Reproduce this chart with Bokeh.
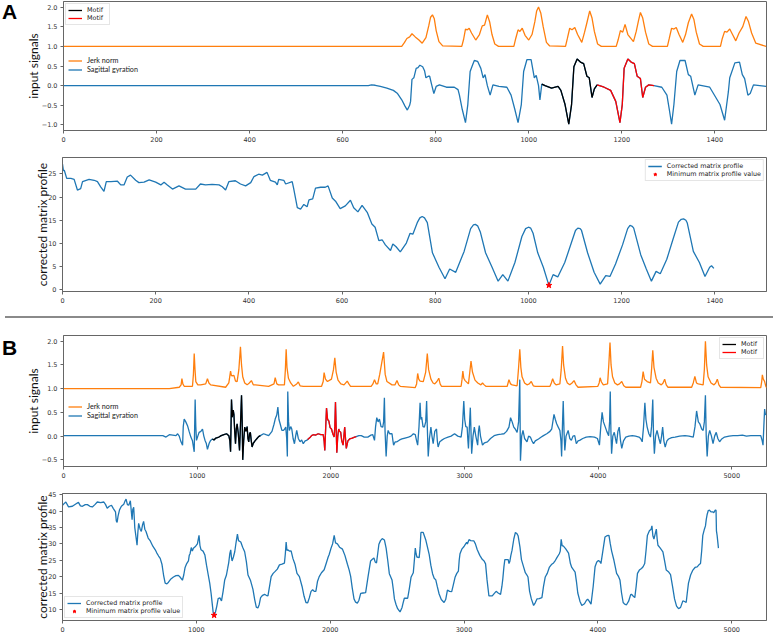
from bokeh.plotting import figure
from bokeh.models import Range1d, FixedTicker, Legend, LegendItem, Div
from bokeh.layouts import column, row
from bokeh.embed import file_html
from bokeh.resources import INLINE

BLUE = "#1f77b4"
ORANGE = "#ff7f0e"

# ---------------- Panel A : input signals ----------------
a_jerk_x = [0, 727, 733, 738, 744, 749, 756, 764, 771, 779, 785, 789, 793, 797, 801, 807, 815, 856, 860, 864, 868, 872, 877, 886, 894, 900, 905, 911, 916, 921, 927, 935, 968, 972, 977, 981, 986, 992, 1000, 1007, 1013, 1017, 1021, 1026, 1031, 1038, 1045, 1079, 1083, 1088, 1093, 1099, 1105, 1114, 1120, 1125, 1131, 1136, 1141, 1148, 1156, 1188, 1192, 1197, 1202, 1207, 1213, 1225, 1231, 1236, 1240, 1245, 1251, 1258, 1266, 1298, 1302, 1307, 1312, 1317, 1323, 1331, 1337, 1343, 1350, 1355, 1360, 1367, 1375, 1412, 1416, 1421, 1426, 1432, 1438, 1445, 1452, 1460, 1467, 1472, 1479, 1488, 1510]
a_jerk_y = [1.0, 1.0, 1.1, 1.2, 1.24, 1.32, 1.24, 1.16, 1.08, 1.22, 1.52, 1.74, 1.8, 1.7, 1.4, 1.12, 1.01, 1.0, 1.18, 1.44, 1.42, 1.46, 1.34, 1.16, 1.3, 1.52, 1.54, 1.8, 1.62, 1.3, 1.06, 1.0, 1.0, 1.2, 1.42, 1.38, 1.46, 1.28, 1.16, 1.3, 1.62, 1.9, 2.0, 1.84, 1.5, 1.1, 1.01, 1.0, 1.2, 1.46, 1.42, 1.48, 1.3, 1.1, 1.36, 1.6, 1.9, 1.72, 1.38, 1.06, 1.0, 1.0, 1.16, 1.4, 1.36, 1.56, 1.3, 1.12, 1.38, 1.66, 1.86, 1.72, 1.36, 1.06, 1.0, 1.0, 1.2, 1.46, 1.44, 1.48, 1.3, 1.1, 1.3, 1.6, 1.82, 1.68, 1.36, 1.06, 1.0, 1.0, 1.2, 1.38, 1.36, 1.44, 1.3, 1.14, 1.34, 1.5, 1.76, 1.64, 1.34, 1.08, 1.0]

a_sag_x = [0, 655, 662, 670, 681, 695, 709, 718, 727, 734, 739, 744, 746, 749, 753, 758, 762, 766, 772, 776, 779, 784, 787, 791, 796, 801, 808, 823, 840, 848, 851, 857, 864, 869, 874, 879, 883, 890, 897, 902, 906, 911, 917, 923, 936, 953, 962, 970, 977, 984, 989, 996, 1005, 1012, 1016, 1021, 1024, 1028, 1035, 1049, 1063, 1069, 1078, 1086, 1092, 1097, 1104, 1111, 1118, 1125, 1130, 1136, 1141, 1147, 1162, 1176, 1187, 1196, 1201, 1205, 1213, 1220, 1227, 1233, 1240, 1245, 1251, 1258, 1269, 1286, 1297, 1302, 1307, 1312, 1318, 1325, 1336, 1343, 1348, 1357, 1364, 1389, 1411, 1421, 1429, 1432, 1443, 1453, 1459, 1464, 1471, 1476, 1483, 1510]
a_sag_y = [0.0, 0.0, 0.02, 0.01, -0.02, -0.06, -0.12, -0.2, -0.36, -0.52, -0.62, -0.5, -0.4, 0.16, 0.2, 0.44, 0.46, 0.52, 0.48, 0.38, 0.2, 0.24, 0.24, 0.04, -0.2, -0.02, 0.02, -0.04, -0.04, -0.1, -0.24, -0.6, -0.94, -0.48, 0.36, 0.52, 0.64, 0.62, 0.44, 0.2, 0.28, 0.0, -0.24, 0.02, -0.02, -0.04, -0.24, -0.6, -0.94, -0.48, 0.36, 0.66, 0.66, 0.2, 0.26, 0.0, -0.36, 0.04, 0.0, -0.06, -0.02, -0.12, -0.48, -0.98, -0.48, 0.48, 0.68, 0.6, 0.56, 0.24, 0.2, -0.3, -0.08, 0.02, -0.04, -0.12, -0.4, -0.94, -0.48, 0.44, 0.68, 0.6, 0.56, 0.24, 0.18, -0.3, -0.04, 0.02, 0.0, -0.04, -0.24, -0.6, -0.98, -0.48, 0.36, 0.64, 0.64, 0.28, 0.24, -0.24, 0.02, -0.04, -0.48, -0.88, -0.16, 0.2, 0.58, 0.6, 0.28, 0.18, -0.24, -0.2, 0.02, -0.02]

a_motif1 = (1028, 1147)
a_motif2 = (1147, 1269)

# ---------------- Panel A : corrected matrix profile ----------------
a_mp_x = [0, 2, 4, 9, 18, 25, 32, 39, 43, 57, 68, 75, 82, 89, 94, 104, 118, 125, 132, 139, 146, 157, 164, 175, 186, 200, 211, 218, 225, 236, 250, 264, 286, 296, 307, 321, 336, 343, 350, 357, 371, 382, 393, 404, 411, 421, 429, 439, 446, 457, 461, 464, 475, 479, 493, 496, 504, 511, 518, 525, 529, 537, 543, 554, 564, 570, 579, 586, 596, 607, 618, 625, 634, 643, 654, 664, 671, 679, 686, 693, 704, 709, 716, 725, 738, 746, 752, 762, 767, 772, 777, 783, 794, 808, 821, 831, 844, 862, 876, 882, 886, 891, 897, 908, 922, 935, 945, 956, 971, 986, 994, 1000, 1005, 1010, 1020, 1032, 1044, 1053, 1063, 1078, 1092, 1101, 1106, 1111, 1114, 1127, 1141, 1154, 1166, 1175, 1187, 1202, 1213, 1218, 1223, 1226, 1241, 1253, 1264, 1274, 1283, 1297, 1310, 1322, 1328, 1333, 1338, 1341, 1354, 1367, 1379, 1389, 1393, 1398]
a_mp_y = [27.1, 25.7, 25.7, 24.0, 24.0, 23.8, 21.5, 21.8, 23.3, 23.8, 23.6, 23.3, 22.2, 21.2, 23.3, 23.3, 23.4, 22.6, 22.6, 24.3, 24.7, 23.6, 23.1, 23.2, 23.7, 23.2, 22.6, 23.2, 22.6, 21.7, 22.4, 21.7, 21.7, 22.8, 22.6, 22.7, 22.6, 22.2, 21.5, 23.3, 23.5, 22.8, 22.4, 23.1, 24.4, 24.9, 24.7, 25.3, 23.6, 23.2, 22.6, 23.8, 23.6, 22.8, 23.3, 21.9, 17.7, 17.4, 18.4, 17.9, 19.4, 19.6, 21.9, 22.1, 22.1, 22.4, 19.8, 19.1, 17.5, 18.1, 19.3, 17.7, 16.8, 18.2, 16.7, 14.2, 13.5, 10.6, 10.8, 9.7, 8.5, 9.9, 9.3, 8.2, 10.1, 12.2, 12.0, 14.6, 15.5, 15.8, 15.5, 14.5, 8.0, 4.9, 2.4, 4.5, 3.8, 8.3, 13.2, 14.0, 14.1, 13.8, 12.4, 8.0, 4.9, 1.9, 3.3, 1.9, 5.9, 11.5, 13.2, 13.5, 13.3, 12.2, 8.0, 4.9, 1.0, 3.3, 2.8, 5.9, 10.1, 12.8, 13.3, 13.2, 12.8, 8.0, 3.8, 1.25, 3.1, 2.9, 5.6, 9.7, 13.2, 13.9, 13.7, 13.3, 7.6, 4.5, 1.9, 4.0, 3.5, 6.6, 10.8, 14.6, 15.2, 15.3, 15.0, 14.4, 8.3, 5.9, 2.9, 4.9, 5.2, 4.65]
a_min_x = [1044]
a_min_y = [1.0]

# ---------------- Panel B : input signals ----------------
b_jerk_x = [0, 792, 866, 880, 886, 893, 903, 965, 972, 978, 984, 990, 1005, 1027, 1064, 1077, 1088, 1101, 1213, 1237, 1250, 1256, 1262, 1275, 1287, 1299, 1312, 1324, 1332, 1341, 1356, 1374, 1390, 1406, 1420, 1436, 1535, 1575, 1584, 1596, 1609, 1653, 1660, 1666, 1672, 1683, 1700, 1720, 1745, 1757, 1770, 1794, 1931, 1943, 1950, 1960, 1975, 2005, 2020, 2030, 2040, 2054, 2075, 2099, 2123, 2135, 2148, 2302, 2315, 2327, 2340, 2351, 2366, 2395, 2407, 2420, 2458, 2480, 2495, 2508, 2520, 2631, 2642, 2650, 2658, 2668, 2692, 2710, 2722, 2732, 2749, 2765, 2778, 2794, 2808, 2818, 2828, 2975, 2982, 2988, 2995, 3005, 3030, 3040, 3049, 3060, 3079, 3100, 3123, 3135, 3148, 3160, 3320, 3333, 3345, 3357, 3394, 3404, 3414, 3422, 3431, 3450, 3468, 3485, 3500, 3515, 3530, 3640, 3650, 3660, 3672, 3685, 3714, 3724, 3734, 3742, 3756, 3770, 3788, 3805, 3820, 3835, 3850, 3998, 4008, 4015, 4025, 4039, 4071, 4080, 4089, 4097, 4108, 4125, 4145, 4160, 4177, 4192, 4207, 4318, 4328, 4337, 4347, 4367, 4392, 4400, 4409, 4418, 4434, 4450, 4473, 4486, 4498, 4510, 4522, 4700, 4712, 4724, 4736, 4749, 4786, 4795, 4803, 4812, 4823, 4845, 4867, 4880, 4892, 4904, 4916, 5217, 5224, 5229, 5236, 5246, 5255, 5261]
b_jerk_y = [1.0, 1.0, 1.03, 1.08, 1.21, 1.1, 1.05, 1.05, 1.3, 1.74, 1.4, 1.15, 1.08, 1.08, 1.1, 1.21, 1.12, 1.08, 1.03, 1.12, 1.37, 1.28, 1.27, 1.28, 1.16, 1.15, 1.4, 1.88, 1.5, 1.25, 1.12, 1.08, 1.12, 1.17, 1.08, 1.08, 1.05, 1.1, 1.23, 1.1, 1.08, 1.08, 1.4, 1.83, 1.45, 1.22, 1.12, 1.05, 1.1, 1.14, 1.06, 1.05, 1.05, 1.15, 1.34, 1.2, 1.15, 1.2, 1.4, 1.65, 1.35, 1.18, 1.1, 1.08, 1.16, 1.1, 1.05, 1.05, 1.1, 1.19, 1.1, 1.1, 1.3, 1.77, 1.3, 1.15, 1.08, 1.08, 1.17, 1.08, 1.05, 1.02, 1.1, 1.32, 1.2, 1.16, 1.15, 1.35, 1.74, 1.4, 1.2, 1.12, 1.1, 1.15, 1.22, 1.1, 1.05, 1.05, 1.2, 1.37, 1.22, 1.17, 1.1, 1.35, 1.58, 1.35, 1.18, 1.12, 1.08, 1.12, 1.08, 1.05, 1.05, 1.19, 1.1, 1.08, 1.06, 1.4, 1.83, 1.45, 1.25, 1.12, 1.08, 1.1, 1.15, 1.06, 1.05, 1.05, 1.12, 1.21, 1.12, 1.08, 1.1, 1.4, 1.9, 1.5, 1.22, 1.12, 1.08, 1.12, 1.17, 1.08, 1.03, 1.05, 1.12, 1.23, 1.14, 1.08, 1.1, 1.5, 1.97, 1.5, 1.25, 1.12, 1.08, 1.1, 1.15, 1.06, 1.03, 1.03, 1.15, 1.36, 1.2, 1.15, 1.12, 1.4, 1.81, 1.45, 1.22, 1.12, 1.08, 1.12, 1.2, 1.08, 1.03, 1.03, 1.12, 1.26, 1.12, 1.1, 1.08, 1.4, 2.0, 1.5, 1.25, 1.12, 1.08, 1.12, 1.2, 1.08, 1.03, 1.02, 1.15, 1.29, 1.2, 1.15, 1.05, 1.02]

b_sag_x = [0, 743, 767, 792, 842, 854, 866, 879, 891, 896, 903, 915, 928, 940, 953, 965, 978, 985, 990, 995, 1005, 1015, 1028, 1040, 1050, 1059, 1068, 1077, 1090, 1101, 1114, 1126, 1140, 1163, 1180, 1200, 1220, 1237, 1245, 1250, 1257, 1263, 1270, 1275, 1281, 1287, 1293, 1299, 1308, 1317, 1325, 1332, 1337, 1341, 1348, 1356, 1365, 1374, 1380, 1386, 1392, 1398, 1405, 1411, 1420, 1436, 1448, 1460, 1473, 1497, 1515, 1535, 1560, 1575, 1584, 1596, 1604, 1612, 1621, 1634, 1646, 1655, 1663, 1670, 1675, 1678, 1684, 1690, 1700, 1708, 1718, 1728, 1737, 1745, 1757, 1770, 1782, 1794, 1808, 1819, 1827, 1844, 1856, 1869, 1885, 1906, 1925, 1943, 1950, 1955, 1962, 1968, 1976, 1985, 1995, 2005, 2015, 2025, 2030, 2035, 2040, 2045, 2052, 2059, 2066, 2074, 2082, 2092, 2098, 2104, 2110, 2116, 2128, 2141, 2160, 2178, 2190, 2210, 2228, 2250, 2277, 2300, 2314, 2327, 2335, 2344, 2354, 2364, 2376, 2389, 2395, 2401, 2406, 2414, 2422, 2429, 2440, 2458, 2465, 2470, 2482, 2495, 2515, 2532, 2555, 2581, 2600, 2618, 2632, 2642, 2650, 2660, 2668, 2674, 2680, 2690, 2700, 2710, 2717, 2722, 2729, 2738, 2749, 2757, 2766, 2778, 2791, 2797, 2803, 2815, 2828, 2850, 2877, 2900, 2926, 2950, 2975, 2985, 2995, 3002, 3010, 3020, 3026, 3030, 3037, 3044, 3050, 3054, 3064, 3074, 3085, 3099, 3105, 3111, 3120, 3135, 3150, 3172, 3195, 3222, 3250, 3275, 3296, 3315, 3333, 3345, 3357, 3369, 3380, 3394, 3405, 3414, 3419, 3428, 3438, 3450, 3468, 3480, 3493, 3505, 3517, 3530, 3554, 3575, 3591, 3616, 3640, 3653, 3670, 3680, 3690, 3700, 3714, 3722, 3727, 3733, 3739, 3745, 3751, 3760, 3776, 3788, 3800, 3812, 3825, 3837, 3850, 3862, 3885, 3911, 3940, 3973, 3995, 4010, 4020, 4030, 4040, 4054, 4065, 4079, 4086, 4091, 4096, 4101, 4110, 4121, 4130, 4138, 4148, 4158, 4168, 4177, 4190, 4207, 4230, 4256, 4280, 4306, 4318, 4330, 4340, 4350, 4358, 4367, 4380, 4392, 4400, 4409, 4415, 4421, 4430, 4441, 4455, 4466, 4475, 4483, 4492, 4502, 4515, 4527, 4550, 4576, 4610, 4650, 4680, 4712, 4725, 4737, 4750, 4761, 4775, 4786, 4795, 4803, 4809, 4816, 4825, 4835, 4848, 4860, 4872, 4884, 4896, 4909, 4925, 4946, 4980, 5010, 5044, 5080, 5110, 5143, 5180, 5217, 5228, 5234, 5240, 5246, 5252, 5261]
b_sag_y = [0.01, 0.01, -0.02, 0.03, 0.01, 0.05, 0.0, -0.12, -0.19, 0.2, 0.36, 0.3, 0.22, 0.1, -0.02, -0.1, -0.33, 0.77, 0.2, -0.09, 0.0, 0.08, 0.1, 0.15, 0.0, -0.09, -0.15, -0.28, -0.15, -0.09, -0.06, -0.08, -0.04, -0.02, 0.01, 0.03, 0.05, 0.01, -0.1, -0.33, 0.77, 0.4, 0.55, 0.46, 0.1, -0.16, 0.15, 0.26, 0.05, -0.3, 0.3, 0.86, 0.3, -0.5, -0.1, 0.19, 0.1, 0.2, -0.05, -0.12, 0.05, 0.08, -0.1, -0.23, -0.15, -0.09, -0.05, -0.01, 0.01, 0.05, 0.03, 0.01, 0.1, 0.25, 0.36, 0.45, 0.61, 0.35, 0.26, 0.12, 0.12, 0.15, 0.19, -0.05, -0.43, 0.94, 0.3, 0.12, 0.2, 0.15, -0.05, -0.16, 0.0, 0.12, -0.05, -0.12, -0.08, -0.16, -0.1, -0.09, -0.07, -0.03, 0.01, 0.03, 0.02, 0.05, 0.03, 0.03, -0.1, -0.3, 0.2, 0.59, 0.35, 0.32, 0.18, 0.15, 0.05, -0.02, 0.2, 0.72, 0.2, -0.35, 0.0, 0.15, 0.1, 0.08, -0.1, -0.19, 0.0, 0.19, -0.05, -0.26, -0.1, -0.06, -0.04, -0.02, -0.01, 0.01, 0.01, -0.02, -0.02, 0.02, 0.03, -0.09, 0.2, 0.39, 0.3, 0.36, 0.2, 0.19, 0.3, 0.81, 0.1, -0.43, 0.0, 0.12, 0.05, 0.05, -0.1, -0.19, -0.12, -0.12, -0.08, -0.06, -0.04, -0.02, 0.0, 0.05, 0.03, -0.1, -0.19, 0.2, 0.7, 0.35, 0.4, 0.2, 0.19, 0.3, 0.74, 0.2, -0.43, -0.05, 0.19, 0.0, -0.16, 0.1, 0.15, -0.1, -0.23, -0.12, -0.09, -0.05, -0.02, 0.0, 0.05, 0.0, -0.02, 0.2, 0.74, 0.35, 0.2, 0.19, -0.1, -0.26, 0.2, 0.6, 0.0, -0.37, 0.0, 0.19, 0.0, -0.19, 0.1, 0.22, 0.0, -0.19, -0.14, -0.12, -0.05, 0.01, 0.03, 0.04, 0.05, 0.1, 0.19, 0.39, 0.3, 0.19, 0.15, 0.08, 0.3, 1.19, -0.52, 0.0, 0.12, -0.05, -0.12, 0.0, -0.02, -0.1, -0.16, -0.1, -0.06, -0.02, 0.01, 0.05, 0.1, 0.15, 0.46, 0.35, 0.26, 0.2, 0.12, -0.1, -0.43, 0.2, 0.74, 0.1, -0.3, 0.0, 0.12, -0.05, -0.09, 0.0, 0.01, -0.16, -0.1, -0.09, -0.05, -0.02, -0.01, -0.02, -0.05, -0.19, 0.2, 0.5, 0.3, 0.19, 0.1, 0.01, 0.3, 0.94, 0.1, -0.37, 0.0, 0.08, -0.05, -0.16, 0.1, 0.19, -0.1, -0.26, -0.1, -0.02, 0.0, 0.01, 0.0, -0.02, -0.05, -0.12, 0.2, 0.7, 0.35, 0.19, 0.05, -0.02, 0.2, 0.77, 0.0, -0.37, 0.0, 0.12, -0.05, -0.16, 0.0, 0.19, -0.1, -0.23, -0.1, -0.06, -0.03, -0.02, 0.0, 0.01, 0.0, -0.02, 0.2, 0.53, 0.3, 0.26, 0.15, 0.12, 0.3, 0.86, 0.0, -0.43, 0.0, 0.12, 0.0, -0.16, 0.0, 0.08, -0.05, -0.12, -0.06, -0.02, 0.0, 0.01, 0.01, 0.02, 0.0, 0.01, 0.01, 0.01, -0.1, -0.19, 0.2, 0.57, 0.45, 0.46]

b_motif1 = (1114, 1473)
b_motif2 = (1827, 2190)

# ---------------- Panel B : corrected matrix profile ----------------
b_mp_x = [0, 12, 25, 45, 74, 99, 119, 134, 149, 170, 186, 205, 223, 242, 260, 285, 309, 322, 334, 350, 366, 380, 396, 402, 408, 415, 426, 440, 458, 466, 475, 485, 495, 507, 514, 520, 525, 532, 540, 548, 557, 563, 569, 580, 589, 598, 606, 615, 624, 640, 656, 675, 693, 705, 718, 730, 743, 755, 767, 780, 792, 810, 829, 848, 866, 880, 896, 906, 916, 928, 941, 947, 953, 962, 970, 978, 995, 1008, 1020, 1027, 1035, 1050, 1064, 1076, 1089, 1100, 1110, 1118, 1126, 1133, 1143, 1153, 1163, 1176, 1188, 1200, 1212, 1225, 1234, 1242, 1250, 1257, 1262, 1267, 1277, 1287, 1297, 1307, 1315, 1332, 1346, 1361, 1374, 1386, 1405, 1423, 1436, 1448, 1460, 1470, 1480, 1495, 1510, 1522, 1535, 1547, 1559, 1574, 1589, 1605, 1621, 1640, 1658, 1665, 1671, 1677, 1683, 1695, 1708, 1722, 1737, 1752, 1770, 1790, 1805, 1819, 1832, 1844, 1857, 1869, 1881, 1893, 1905, 1918, 1935, 1955, 1970, 1985, 1992, 2005, 2018, 2030, 2040, 2054, 2070, 2092, 2110, 2129, 2142, 2153, 2165, 2178, 2190, 2203, 2215, 2228, 2245, 2265, 2283, 2302, 2315, 2327, 2336, 2346, 2355, 2364, 2376, 2389, 2405, 2418, 2430, 2442, 2462, 2472, 2480, 2492, 2504, 2522, 2537, 2545, 2554, 2567, 2579, 2592, 2604, 2621, 2630, 2636, 2642, 2648, 2657, 2665, 2672, 2678, 2686, 2695, 2715, 2740, 2752, 2765, 2777, 2789, 2800, 2814, 2830, 2851, 2863, 2876, 2892, 2908, 2920, 2933, 2946, 2958, 2964, 2970, 2985, 3000, 3012, 3020, 3025, 3037, 3050, 3074, 3085, 3099, 3118, 3136, 3150, 3161, 3172, 3186, 3200, 3211, 3225, 3240, 3255, 3273, 3283, 3290, 3298, 3305, 3318, 3330, 3336, 3342, 3350, 3359, 3372, 3384, 3394, 3404, 3418, 3429, 3445, 3458, 3470, 3478, 3490, 3503, 3520, 3532, 3545, 3562, 3582, 3594, 3607, 3622, 3637, 3653, 3669, 3683, 3694, 3712, 3719, 3726, 3733, 3743, 3760, 3781, 3795, 3805, 3830, 3840, 3850, 3866, 3880, 3900, 3915, 3924, 3935, 3949, 3965, 3979, 3992, 4004, 4015, 4023, 4038, 4053, 4068, 4083, 4093, 4103, 4120, 4140, 4155, 4165, 4177, 4189, 4200, 4214, 4230, 4245, 4251, 4265, 4276, 4286, 4296, 4310, 4326, 4338, 4350, 4360, 4370, 4385, 4398, 4404, 4411, 4419, 4428, 4437, 4443, 4449, 4465, 4486, 4498, 4511, 4527, 4543, 4558, 4573, 4588, 4603, 4618, 4635, 4648, 4660, 4668, 4677, 4693, 4710, 4726, 4742, 4755, 4767, 4776, 4784, 4796, 4804, 4810, 4816, 4825, 4834, 4845, 4858, 4866, 4876, 4883, 4886, 4891, 4901]
b_mp_y = [41.8, 42.3, 42.8, 41.3, 41.5, 42.2, 42.7, 41.6, 41.5, 42.0, 42.0, 41.5, 41.3, 42.0, 42.8, 42.6, 42.8, 42.0, 40.9, 41.5, 41.8, 40.8, 39.8, 37.0, 36.6, 38.5, 40.4, 41.5, 42.1, 43.0, 43.7, 42.0, 41.8, 43.2, 40.0, 37.4, 40.5, 41.2, 35.0, 32.5, 29.6, 33.5, 36.3, 34.5, 33.8, 35.8, 36.9, 34.5, 33.8, 31.8, 30.9, 29.3, 28.2, 27.2, 26.3, 25.6, 23.8, 20.5, 18.0, 17.8, 18.3, 19.3, 19.9, 20.3, 20.4, 19.8, 18.9, 20.5, 22.8, 24.0, 24.8, 26.5, 27.0, 28.9, 27.8, 28.7, 29.3, 30.0, 32.6, 29.5, 28.2, 27.8, 26.6, 23.5, 20.5, 18.0, 15.0, 12.0, 9.0, 8.3, 9.2, 11.0, 13.3, 13.5, 12.6, 15.5, 19.0, 20.5, 22.5, 24.3, 27.0, 28.2, 26.0, 24.8, 26.0, 27.6, 30.5, 33.0, 31.0, 30.6, 29.0, 27.6, 24.5, 20.5, 18.8, 16.1, 13.0, 10.7, 10.4, 11.5, 13.6, 14.3, 14.6, 14.3, 14.1, 17.0, 20.0, 21.0, 21.6, 22.3, 23.6, 23.8, 24.1, 27.0, 30.6, 28.0, 28.2, 27.8, 27.9, 25.5, 23.8, 21.0, 20.0, 17.0, 14.0, 12.1, 12.0, 13.5, 15.5, 16.0, 15.5, 15.5, 18.5, 20.0, 21.2, 22.1, 24.0, 26.0, 26.7, 28.5, 30.0, 32.6, 30.3, 30.0, 29.0, 28.4, 26.5, 23.8, 22.0, 20.1, 16.5, 13.2, 12.2, 11.9, 12.8, 14.9, 15.0, 15.1, 20.0, 24.8, 25.3, 25.7, 24.5, 24.2, 27.0, 29.9, 31.0, 31.6, 31.2, 28.7, 25.0, 20.9, 19.0, 16.0, 13.2, 11.5, 10.2, 9.2, 10.6, 12.0, 13.4, 13.4, 13.4, 16.5, 19.8, 21.2, 25.5, 28.7, 27.0, 26.0, 25.9, 25.8, 29.0, 33.5, 33.5, 33.5, 31.1, 26.7, 23.5, 20.9, 19.5, 19.0, 17.0, 14.7, 13.0, 12.1, 13.0, 15.9, 15.5, 15.4, 17.5, 19.8, 21.0, 21.7, 25.0, 27.0, 28.5, 29.2, 30.0, 30.5, 30.0, 31.3, 31.0, 30.9, 30.0, 28.2, 26.5, 25.3, 24.8, 23.9, 19.0, 14.1, 14.1, 14.1, 14.8, 15.5, 15.0, 14.6, 17.0, 19.4, 23.0, 25.2, 25.2, 25.2, 24.0, 24.6, 26.5, 28.1, 31.5, 33.5, 33.2, 32.5, 29.0, 25.2, 23.0, 21.2, 20.5, 19.9, 15.5, 13.2, 11.2, 12.0, 13.2, 13.3, 13.6, 17.0, 19.9, 21.0, 22.8, 23.7, 24.2, 25.0, 25.8, 27.0, 27.8, 31.4, 29.5, 29.3, 28.5, 27.2, 24.0, 22.8, 21.4, 18.5, 15.0, 12.5, 11.2, 11.7, 12.8, 13.1, 12.5, 11.6, 17.0, 23.0, 24.5, 24.9, 24.6, 24.0, 28.0, 32.1, 32.5, 32.6, 30.0, 27.8, 25.0, 21.0, 20.0, 19.0, 15.0, 12.1, 11.6, 11.4, 12.5, 14.5, 14.6, 14.0, 13.6, 17.0, 21.0, 22.0, 22.5, 23.0, 24.0, 28.0, 32.6, 34.0, 34.5, 35.5, 32.5, 31.5, 33.0, 34.5, 31.5, 29.6, 28.8, 27.6, 25.0, 22.0, 21.5, 20.6, 17.0, 13.2, 11.0, 10.2, 10.6, 12.6, 12.4, 12.1, 15.0, 18.0, 20.5, 22.0, 22.8, 23.0, 23.6, 24.0, 28.0, 32.6, 34.5, 35.5, 37.5, 38.9, 40.2, 40.3, 39.8, 39.8, 39.5, 40.3, 40.3, 34.0, 32.6, 28.7]
b_min_x = [1133]
b_min_y = [8.2]

a_xticks = [0, 200, 400, 600, 800, 1000, 1200, 1400]
b_xticks = [0, 1000, 2000, 3000, 4000, 5000]
sig_yticks = [-1.0, -0.5, 0.0, 0.5, 1.0, 1.5, 2.0]
a_mp_yticks = [0, 5, 10, 15, 20, 25]
b_mp_yticks = [10, 15, 20, 25, 30, 35, 40, 45]

panel_a = "A"
panel_b = "B"
ylabel_sig = "input signals"
ylabel_mp = "corrected matrix profile"
legend_jerk = "Jerk norm"
legend_sag = "Sagittal gyration"
legend_motif = "Motif"
legend_mp = "Corrected matrix profile"
legend_min = "Minimum matrix profile value"

TICK_FONT = "DejaVu Sans"
LAB_FONT = "Lato"
W = 768
LETTER_W = 22
FRAME_LEFT = 62


def segment(xs, ys, rng):
    pts = [(x, y) for x, y in zip(xs, ys) if rng[0] <= x <= rng[1]]
    return [p[0] for p in pts], [p[1] for p in pts]


def fmt_label(v, decimals):
    s = f"{v:.{decimals}f}"
    return s.replace("-", "\u2212")


def make_fig(width, left, height, top, bottom, xr, yr, xticks, yticks, ylabel, standoff, decimals):
    p = figure(width=width, height=height, output_backend="svg", toolbar_location=None,
               x_range=Range1d(*xr), y_range=Range1d(*yr),
               min_border_left=left, min_border_right=2,
               min_border_top=top, min_border_bottom=bottom)
    p.grid.visible = False
    p.outline_line_color = "#666666"
    p.outline_line_width = 1
    for ax in (p.xaxis[0], p.yaxis[0]):
        ax.axis_line_color = "#666666"
        ax.major_tick_line_color = "#666666"
        ax.minor_tick_line_color = None
        ax.major_tick_out = 3
        ax.major_tick_in = 0
        ax.major_label_text_font = TICK_FONT
        ax.major_label_text_font_size = "6.5px"
        ax.major_label_text_color = "#333333"
        ax.major_label_standoff = 3
    p.xaxis[0].ticker = FixedTicker(ticks=xticks)
    p.yaxis[0].ticker = FixedTicker(ticks=yticks)
    p.yaxis[0].major_label_overrides = {v: fmt_label(v, decimals) for v in yticks}
    p.yaxis[0].axis_label = ylabel
    p.yaxis[0].axis_label_text_font = LAB_FONT
    p.yaxis[0].axis_label_text_font_size = "12px"
    p.yaxis[0].axis_label_text_font_style = "normal"
    p.yaxis[0].axis_label_text_color = "#111111"
    p.yaxis[0].axis_label_standoff = standoff
    return p


def small_legend(items, location, font, size, lh, padding, margin, border=True):
    lg = Legend(items=items, location=location)
    lg.label_text_font = font
    lg.label_text_font_size = size
    lg.label_height = lh
    lg.glyph_height = lh
    lg.glyph_width = 14
    lg.spacing = 0
    lg.padding = padding
    lg.margin = margin
    lg.label_standoff = 5
    lg.label_text_color = "#222222"
    if border:
        lg.border_line_color = "#cccccc"
        lg.border_line_width = 1
        lg.background_fill_alpha = 0.85
    else:
        lg.border_line_alpha = 0
        lg.background_fill_alpha = 0
    return lg


def signal_panel(height, top, bottom, xr, yr, xticks, jx, jy, sx, sy, m1, m2, motif_loc, sig_loc):
    p = make_fig(W - LETTER_W, FRAME_LEFT - LETTER_W, height, top, bottom, xr, yr, xticks,
                 sig_yticks, ylabel_sig, -2, 1)
    rj = p.line(jx, jy, line_color=ORANGE, line_width=1.3)
    rs = p.line(sx, sy, line_color=BLUE, line_width=1.3)
    m1x, m1y = segment(sx, sy, m1)
    m2x, m2y = segment(sx, sy, m2)
    rb = p.line(m1x, m1y, line_color="black", line_width=1.3)
    rr = p.line(m2x, m2y, line_color="red", line_width=1.3)
    lg1 = small_legend([LegendItem(label=legend_motif, renderers=[rb]),
                        LegendItem(label=legend_motif, renderers=[rr])],
                       motif_loc, TICK_FONT, "6.4px", 8, 2, 2)
    lg2 = small_legend([LegendItem(label=legend_jerk, renderers=[rj]),
                        LegendItem(label=legend_sag, renderers=[rs])],
                       sig_loc, LAB_FONT, "7.2px", 9, 0, 0, border=False)
    p.add_layout(lg1)
    p.add_layout(lg2)
    return p


def mp_panel(height, top, bottom, xr, yr, xticks, yticks, mx, my, nx, ny, loc):
    p = make_fig(W, FRAME_LEFT, height, top, bottom, xr, yr, xticks, yticks, ylabel_mp, -5, 0)
    rl = p.line(mx, my, line_color=BLUE, line_width=1.3)
    rm = p.scatter(nx, ny, marker="star", size=6, fill_color="red", line_color="red")
    lg = small_legend([LegendItem(label=legend_mp, renderers=[rl]),
                       LegendItem(label=legend_min, renderers=[rm])],
                      loc, TICK_FONT, "6.4px", 8, 2, 2)
    p.add_layout(lg)
    return p


def letter(text, height, offset_top):
    html = ('<span style="position:relative; top:%dpx; left:2px; '
            'font-family:\'Liberation Sans\', Arial, sans-serif; font-size:21px; '
            'font-weight:bold; line-height:21px; color:black;">%s</span>' % (offset_top, text))
    return Div(text=html, width=LETTER_W, height=height,
               styles={"overflow": "visible", "margin": "0", "padding": "0"})


pA1 = signal_panel(146, 1, 16, (0, 1511), (-1.14, 2.14), a_xticks,
                   a_jerk_x, a_jerk_y, a_sag_x, a_sag_y, a_motif1, a_motif2,
                   "top_left", (5, 56))
pA2 = mp_panel(165, 11, 20, (0, 1511), (-0.33, 28.5), a_xticks, a_mp_yticks,
               a_mp_x, a_mp_y, a_min_x, a_min_y, "top_right")
sep = Div(text="", width=W, height=2, styles={"background-color": "#8a8a8a"})
pB1 = signal_panel(159, 12, 16, (0, 5260), (-0.64, 2.12), b_xticks,
                   b_jerk_x, b_jerk_y, b_sag_x, b_sag_y, b_motif1, b_motif2,
                   "top_right", (5, 46))
pB2 = mp_panel(152, 11, 14, (0, 5260), (6.6, 45.4), b_xticks, b_mp_yticks,
               b_mp_x, b_mp_y, b_min_x, b_min_y, "bottom_left")

layout = column(row(letter(panel_a, 146, 1), pA1, spacing=0),
                pA2, sep,
                row(letter(panel_b, 159, 14), pB1, spacing=0),
                pB2, spacing=0)
open("out.html", "w").write(file_html(layout, INLINE))
